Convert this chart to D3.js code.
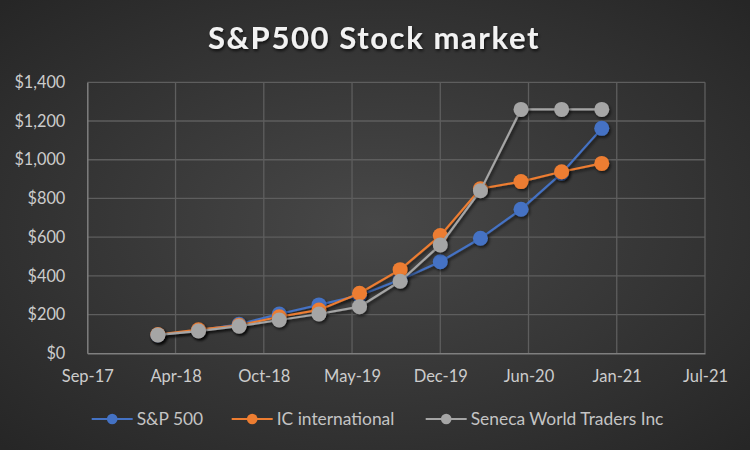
<!DOCTYPE html>
<html><head><meta charset="utf-8">
<script src="https://cdn.jsdelivr.net/npm/d3@7/dist/d3.min.js"></script>
<style>html,body{margin:0;padding:0;background:#2b2b2b;}svg{display:block;}</style>
</head><body>
<svg id="chart" width="750" height="450"></svg>
<script>
// Data (quarterly dates)
const dates = ["2018-03-01","2018-06-01","2018-09-01","2018-12-01","2019-03-01","2019-06-01","2019-09-01","2019-12-01","2020-03-01","2020-06-01","2020-09-01","2020-12-01"];
const sp500 = [95, 118, 150, 203, 250, 300, 380, 473, 594, 744, 930, 1162];
const icIntl = [97, 122, 145, 189, 224, 310, 432, 608, 850, 887, 938, 981];
const seneca = [95, 115, 140, 172, 203, 241, 372, 560, 840, 1260, 1260, 1260];
const seriesNames = ["S&P 500", "IC international", "Seneca World Traders Inc"];
const seriesColors = ["#4472C4", "#ED7D31", "#A5A5A5"];
const xTickLabels = ["Sep-17","Apr-18","Oct-18","May-19","Dec-19","Jun-20","Jan-21","Jul-21"];
const yTicks = [0,200,400,600,800,1000,1200,1400];

(function(){
const svg = d3.select("#chart");
const W = 750, H = 450;
const font = "Lato, 'Open Sans', sans-serif";

const defs = svg.append("defs");
const rg = defs.append("radialGradient").attr("id","bg").attr("cx","50%").attr("cy","50%").attr("r","70%");
rg.append("stop").attr("offset","0%").attr("stop-color","#484848");
rg.append("stop").attr("offset","100%").attr("stop-color","#262626");
svg.append("rect").attr("width",W).attr("height",H).attr("fill","url(#bg)");

const sh = defs.append("filter").attr("id","shadow").attr("x","-50%").attr("y","-50%").attr("width","200%").attr("height","200%");
sh.append("feDropShadow").attr("dx",1.5).attr("dy",2).attr("stdDeviation",1.5).attr("flood-color","#000").attr("flood-opacity",0.6);

const tsh = defs.append("filter").attr("id","tshadow").attr("x","-10%").attr("y","-30%").attr("width","120%").attr("height","160%");
tsh.append("feDropShadow").attr("dx",1).attr("dy",2).attr("stdDeviation",1.5).attr("flood-color","#000").attr("flood-opacity",0.7);

const excelEpoch = Date.UTC(1899,11,30);
const toSerial = s => { const [yy,m,d] = s.split("-").map(Number); return (Date.UTC(yy,m-1,d)-excelEpoch)/86400000; };
const xMin = 43000, xMax = 44400, xStep = 200;
const xTickVals = d3.range(xMin, xMax+1, xStep);

const pL = 87.3, pR = 705, pT = 82.3, pB = 353.3;
const x = d3.scaleLinear().domain([xMin,xMax]).range([pL,pR]);
const y = d3.scaleLinear().domain([0,1400]).range([pB,pT]);

svg.append("text").attr("x",374).attr("y",48.5).attr("text-anchor","middle")
  .attr("font-family",font).attr("font-weight","bold").attr("font-size",31)
  .attr("fill","#f2f2f2").attr("letter-spacing",1.6).attr("filter","url(#tshadow)")
  .text("S&P500 Stock market");

const g = svg.append("g");
g.selectAll("line.h").data(yTicks.slice(1)).join("line")
  .attr("x1",pL).attr("x2",pR).attr("y1",d=>y(d)).attr("y2",d=>y(d))
  .attr("stroke","#5e5e5e").attr("stroke-width",1.3);
g.selectAll("line.v").data(xTickVals.slice(1)).join("line")
  .attr("x1",d=>x(d)).attr("x2",d=>x(d)).attr("y1",pT).attr("y2",pB)
  .attr("stroke","#5e5e5e").attr("stroke-width",1.3);

const yAxis = d3.axisLeft(y).tickValues(yTicks).tickSize(0).tickPadding(22)
  .tickFormat(d => "$" + d3.format(",")(d));
const ya = svg.append("g").attr("transform",`translate(${pL},0)`).call(yAxis);
ya.select(".domain").attr("stroke","#7f7f7f").attr("stroke-width",1.5);
ya.selectAll("text").attr("font-family",font).attr("font-size",16.3).attr("fill","#cccccc");

const xAxis = d3.axisBottom(x).tickValues(xTickVals).tickSize(0).tickPadding(17)
  .tickFormat((d,i) => xTickLabels[i]);
const xa = svg.append("g").attr("transform",`translate(0,${pB})`).call(xAxis);
xa.select(".domain").attr("stroke","#7f7f7f").attr("stroke-width",1.5);
xa.selectAll("text").attr("font-family",font).attr("font-size",16.5).attr("fill","#cccccc");

const allSeries = [sp500, icIntl, seneca];
const line = d3.line().x(d=>x(d.t)).y(d=>y(d.v));
allSeries.forEach((vals, si) => {
  const pts = vals.map((v,i)=>({t: toSerial(dates[i]), v}));
  const sg = svg.append("g");
  sg.append("path").datum(pts).attr("d",line).attr("fill","none")
    .attr("stroke",seriesColors[si]).attr("stroke-width",2.2).attr("filter","url(#shadow)");
  sg.selectAll("circle").data(pts).join("circle")
    .attr("cx",d=>x(d.t)).attr("cy",d=>y(d.v)).attr("r",7.5)
    .attr("fill",seriesColors[si]).attr("filter","url(#shadow)");
});

const legendX = [91.7, 231.7, 425.7];
const lg = svg.append("g");
seriesNames.forEach((name, i) => {
  const gx = legendX[i], gy = 419;
  lg.append("line").attr("x1",gx).attr("x2",gx+41).attr("y1",gy).attr("y2",gy)
    .attr("stroke",seriesColors[i]).attr("stroke-width",2);
  lg.append("circle").attr("cx",gx+20.5).attr("cy",gy).attr("r",5.3).attr("fill",seriesColors[i]);
  lg.append("text").attr("x",gx+45).attr("y",gy).attr("dy","0.35em")
    .attr("font-family",font).attr("font-size",17.4).attr("fill","#c4c4c4").text(name);
});
})();
</script>
</body></html>
